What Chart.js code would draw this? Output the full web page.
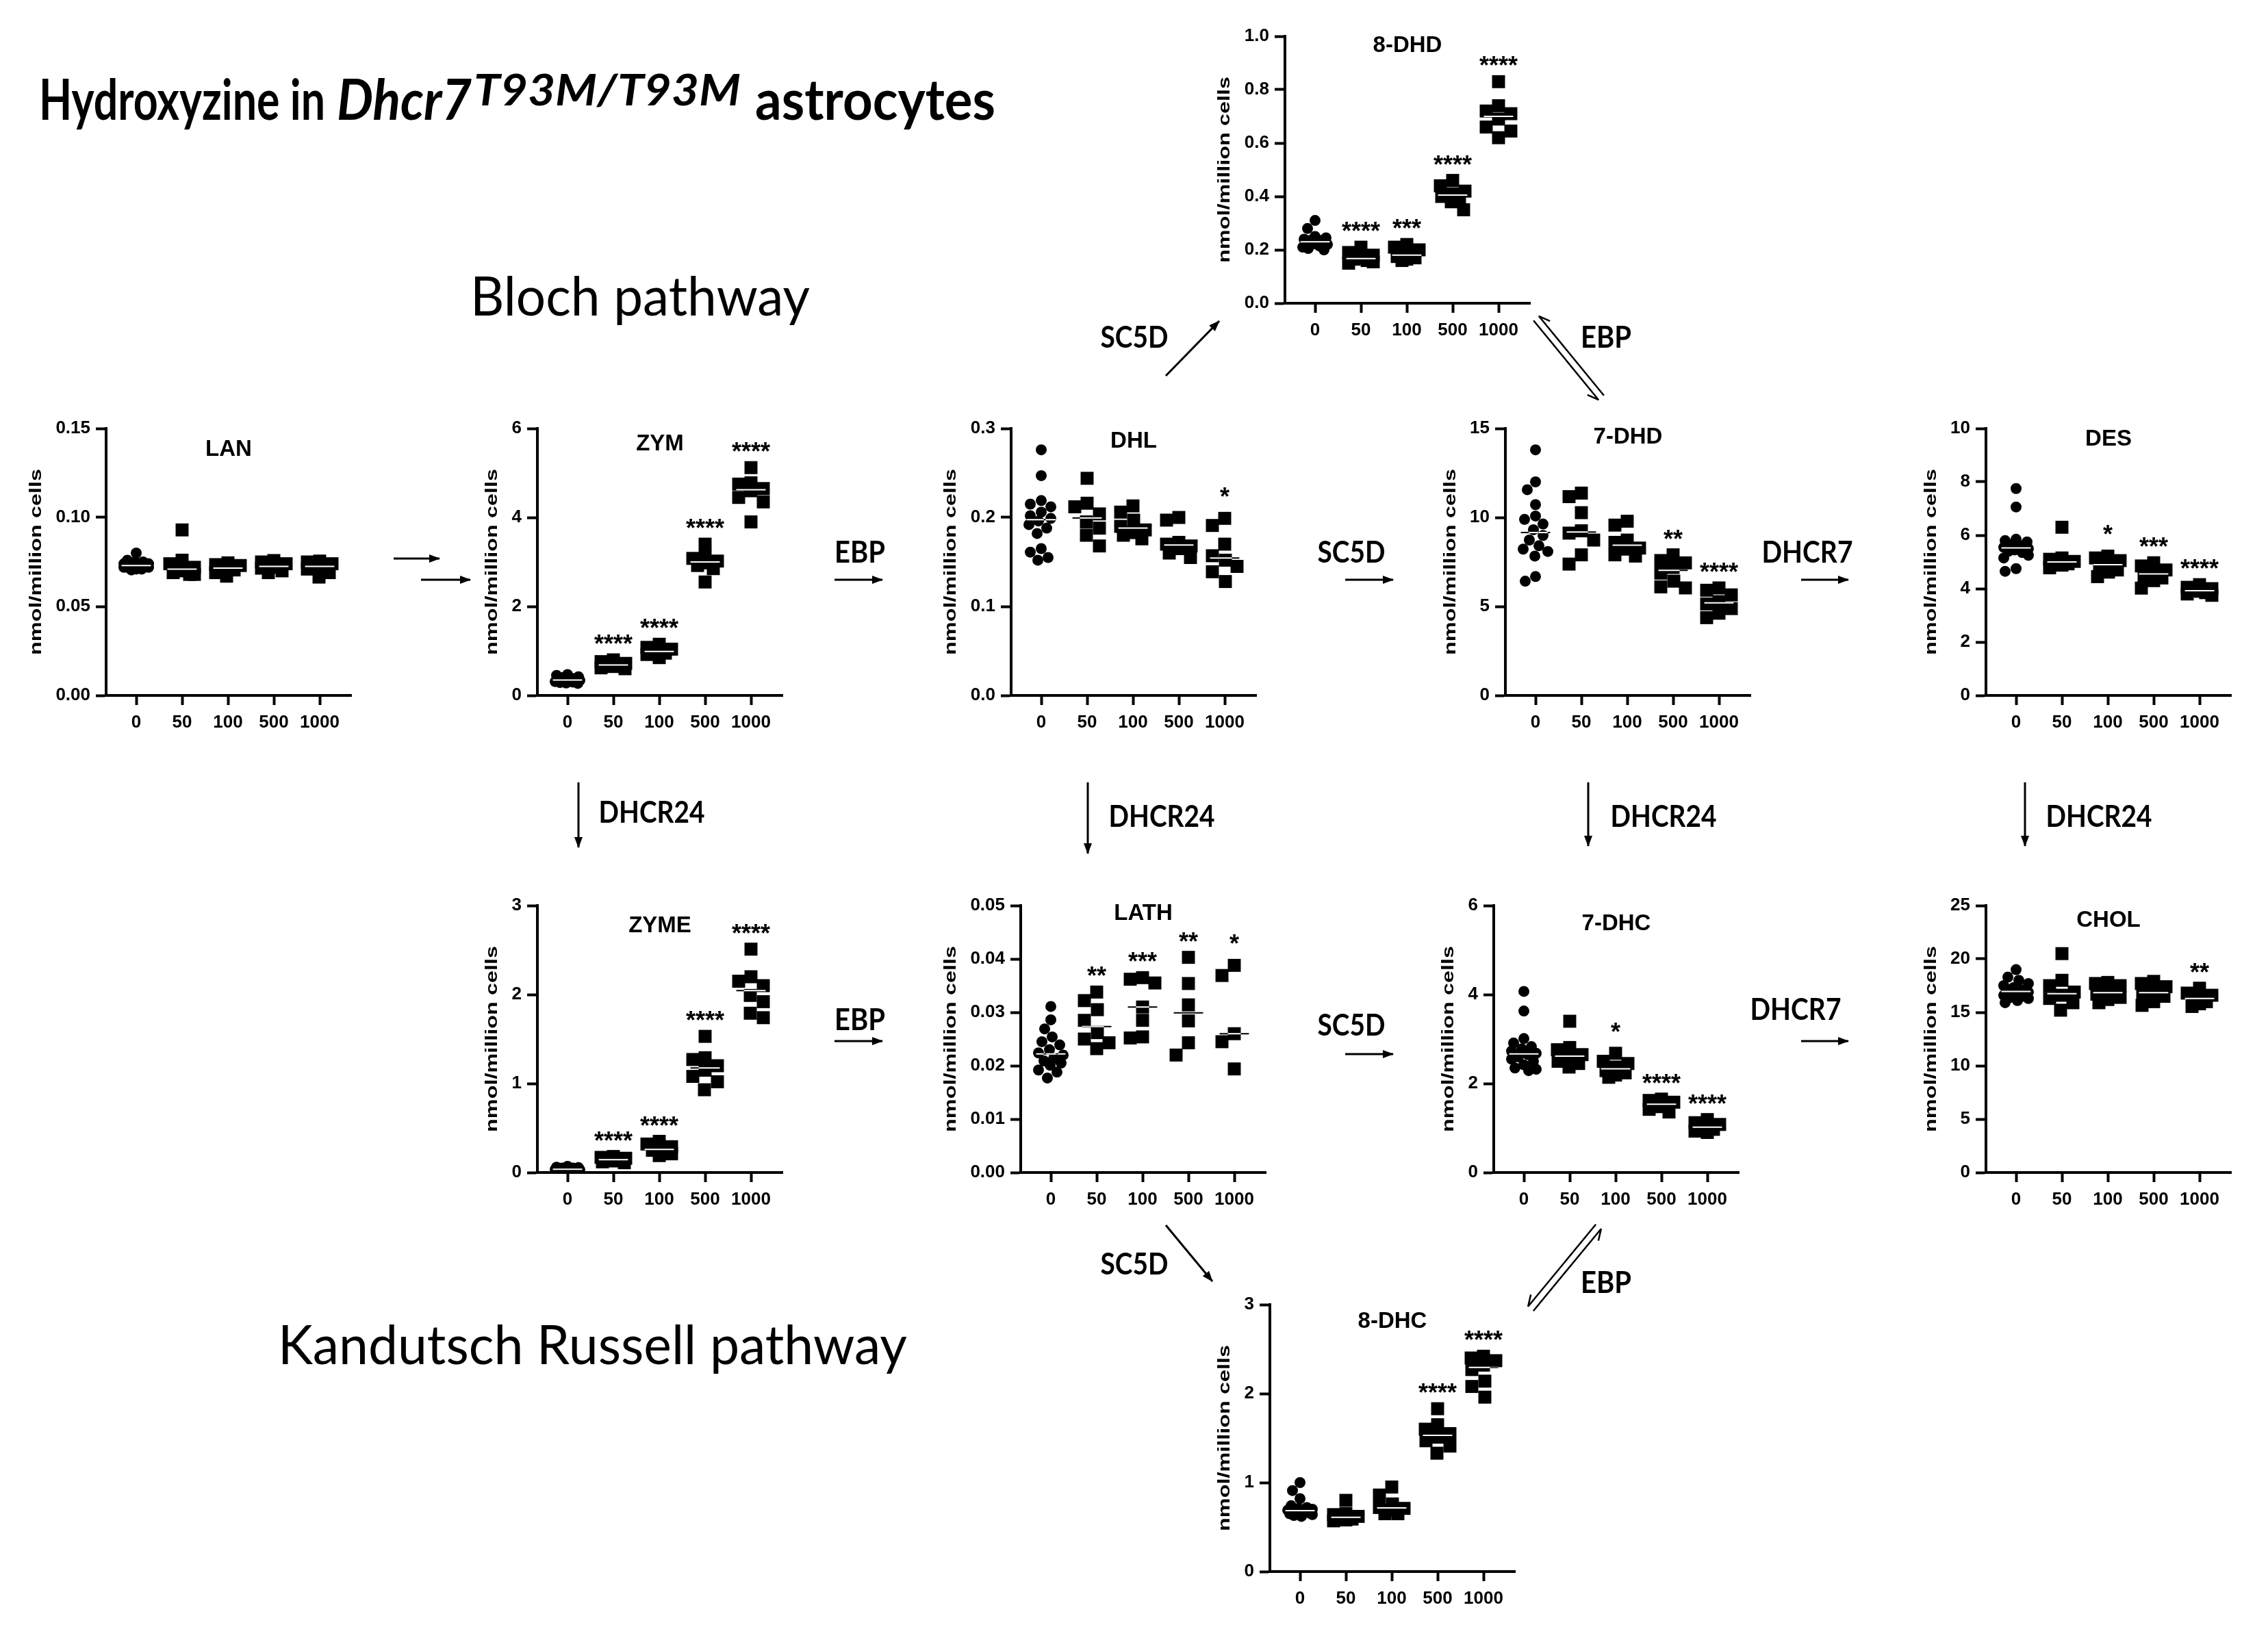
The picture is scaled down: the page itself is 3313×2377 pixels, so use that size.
<!DOCTYPE html>
<html>
<head>
<meta charset="utf-8">
<script src="https://cdn.jsdelivr.net/npm/chart.js@4.4.1/dist/chart.umd.min.js"></script>
<style>
  body { margin: 0; background: #fff; width: 3313px; height: 2377px; position: relative; overflow: hidden; }
  canvas { position: absolute; }
  #overlay { position: absolute; left: 0; top: 0; }
</style>
</head>
<body>
<script>
// dose groups (x categories)
const DOSES = ['0', '50', '100', '500', '1000'];

// values per panel, one list per dose group (nmol/million cells)
const dhd8Values = [
  [0.31, 0.28, 0.25, 0.245, 0.24, 0.235, 0.235, 0.23, 0.23, 0.225, 0.22, 0.22, 0.215, 0.21, 0.205, 0.2],
  [0.21, 0.19, 0.18, 0.17, 0.165, 0.16, 0.155, 0.15],
  [0.22, 0.21, 0.2, 0.185, 0.175, 0.17, 0.165, 0.16],
  [0.46, 0.44, 0.42, 0.41, 0.40, 0.395, 0.38, 0.35],
  [0.83, 0.74, 0.72, 0.71, 0.69, 0.66, 0.645, 0.62]
];
const dhd8Stars = ['', '****', '***', '****', '****'];
const dhd8Ticks = ['0.0', '0.2', '0.4', '0.6', '0.8', '1.0'];

const lanValues = [
  [0.080, 0.076, 0.075, 0.075, 0.074, 0.074, 0.074, 0.073, 0.073, 0.073, 0.072, 0.072, 0.072, 0.071, 0.071, 0.0705],
  [0.093, 0.076, 0.074, 0.072, 0.070, 0.069, 0.068, 0.068],
  [0.0745, 0.0735, 0.073, 0.072, 0.071, 0.0705, 0.069, 0.067],
  [0.0758, 0.075, 0.074, 0.073, 0.072, 0.0715, 0.070, 0.069],
  [0.0755, 0.075, 0.074, 0.073, 0.072, 0.071, 0.069, 0.0665]
];
const lanStars = ['', '', '', '', ''];
const lanTicks = ['0.00', '0.05', '0.10', '0.15'];

const zymValues = [
  [0.47, 0.45, 0.42, 0.40, 0.38, 0.37, 0.36, 0.35, 0.34, 0.33, 0.32, 0.31, 0.30, 0.29, 0.28, 0.27],
  [0.80, 0.76, 0.72, 0.70, 0.67, 0.65, 0.62, 0.60],
  [1.15, 1.08, 1.04, 1.00, 0.98, 0.95, 0.92, 0.85],
  [3.40, 3.12, 3.08, 3.02, 2.98, 2.92, 2.85, 2.55],
  [5.12, 4.78, 4.75, 4.65, 4.60, 4.45, 4.35, 3.90]
];
const zymStars = ['', '****', '****', '****', '****'];
const zymTicks = ['0', '2', '4', '6'];

const dhlValues = [
  [0.276, 0.247, 0.219, 0.215, 0.212, 0.206, 0.202, 0.199, 0.196, 0.192, 0.188, 0.182, 0.165, 0.161, 0.155, 0.152],
  [0.244, 0.216, 0.212, 0.204, 0.195, 0.188, 0.180, 0.168],
  [0.213, 0.206, 0.197, 0.190, 0.186, 0.183, 0.180, 0.176],
  [0.200, 0.197, 0.172, 0.170, 0.168, 0.165, 0.160, 0.155],
  [0.199, 0.191, 0.170, 0.157, 0.152, 0.145, 0.139, 0.128]
];
const dhlStars = ['', '', '', '', '*'];
const dhlTicks = ['0.0', '0.1', '0.2', '0.3'];

const dhd7Values = [
  [13.8, 12.0, 11.56, 10.72, 10.08, 9.89, 9.63, 9.31, 8.99, 8.73, 8.41, 8.22, 8.09, 7.83, 6.68, 6.42],
  [11.37, 11.17, 10.27, 9.25, 9.12, 8.73, 7.9, 7.38],
  [9.79, 9.57, 8.73, 8.6, 8.28, 8.22, 7.9, 7.83],
  [7.9, 7.58, 7.45, 7.19, 6.87, 6.42, 6.1, 6.04],
  [6.04, 5.91, 5.65, 5.27, 5.14, 4.88, 4.62, 4.37]
];
const dhd7Stars = ['', '', '', '**', '****'];
const dhd7Ticks = ['0', '5', '10', '15'];

const desValues = [
  [7.75, 7.06, 5.85, 5.80, 5.75, 5.65, 5.60, 5.55, 5.50, 5.45, 5.40, 5.35, 5.25, 5.15, 4.75, 4.65],
  [6.30, 5.15, 5.10, 5.02, 4.98, 4.93, 4.88, 4.78],
  [5.22, 5.15, 5.05, 4.95, 4.85, 4.70, 4.62, 4.45],
  [4.97, 4.85, 4.70, 4.60, 4.50, 4.40, 4.30, 4.02],
  [4.15, 4.05, 4.00, 3.95, 3.90, 3.85, 3.80, 3.75]
];
const desStars = ['', '', '*', '***', '****'];
const desTicks = ['0', '2', '4', '6', '8', '10'];

const zymeValues = [
  [0.07, 0.06, 0.055, 0.05, 0.05, 0.045, 0.04, 0.04, 0.035, 0.035, 0.03, 0.03, 0.025, 0.025, 0.02, 0.02],
  [0.18, 0.17, 0.16, 0.15, 0.14, 0.13, 0.12, 0.11],
  [0.35, 0.32, 0.29, 0.27, 0.25, 0.23, 0.21, 0.19],
  [1.53, 1.29, 1.27, 1.20, 1.15, 1.08, 1.02, 0.93],
  [2.51, 2.20, 2.15, 2.10, 1.99, 1.92, 1.79, 1.74]
];
const zymeStars = ['', '****', '****', '****', '****'];
const zymeTicks = ['0', '1', '2', '3'];

const lathValues = [
  [0.0311, 0.0286, 0.0269, 0.0254, 0.0245, 0.0239, 0.023, 0.0224, 0.022, 0.0213, 0.0209, 0.0205, 0.0201, 0.0192, 0.0188, 0.0177],
  [0.0338, 0.0322, 0.0305, 0.0285, 0.0262, 0.0250, 0.0243, 0.0232],
  [0.0365, 0.0362, 0.0355, 0.0310, 0.0285, 0.0254, 0.0252],
  [0.0403, 0.0354, 0.0314, 0.0284, 0.0243, 0.0220],
  [0.0388, 0.0369, 0.0260, 0.0245, 0.0194]
];
const lathStars = ['', '**', '***', '**', '*'];
const lathTicks = ['0.00', '0.01', '0.02', '0.03', '0.04', '0.05'];

const dhc7Values = [
  [4.07, 3.63, 3.01, 2.91, 2.83, 2.78, 2.73, 2.68, 2.65, 2.60, 2.55, 2.50, 2.42, 2.35, 2.32, 2.29],
  [3.40, 2.81, 2.76, 2.65, 2.58, 2.50, 2.45, 2.37],
  [2.68, 2.50, 2.45, 2.37, 2.29, 2.24, 2.19, 2.14],
  [1.65, 1.62, 1.58, 1.55, 1.52, 1.48, 1.42, 1.36],
  [1.19, 1.12, 1.08, 1.04, 1.00, 0.97, 0.93, 0.90]
];
const dhc7Stars = ['', '', '*', '****', '****'];
const dhc7Ticks = ['0', '2', '4', '6'];

const cholValues = [
  [19.0, 18.3, 18.0, 17.7, 17.5, 17.3, 17.1, 17.0, 16.9, 16.8, 16.6, 16.5, 16.4, 16.3, 16.1, 15.9],
  [20.5, 18.0, 17.5, 16.9, 16.6, 16.3, 15.9, 15.2],
  [17.8, 17.7, 17.5, 17.0, 16.7, 16.4, 16.2, 15.9],
  [17.9, 17.7, 17.4, 17.0, 16.7, 16.5, 16.0, 15.65],
  [17.26, 16.8, 16.6, 16.4, 16.2, 16.0, 15.8, 15.55]
];
const cholStars = ['', '', '', '', '**'];
const cholTicks = ['0', '5', '10', '15', '20', '25'];

const dhc8Values = [
  [1.0, 0.91, 0.82, 0.74, 0.72, 0.71, 0.70, 0.69, 0.68, 0.67, 0.66, 0.66, 0.65, 0.64, 0.63, 0.62],
  [0.80, 0.65, 0.64, 0.62, 0.60, 0.59, 0.58, 0.57],
  [0.95, 0.86, 0.76, 0.72, 0.71, 0.69, 0.65, 0.65],
  [1.83, 1.65, 1.60, 1.55, 1.51, 1.47, 1.41, 1.33],
  [2.42, 2.40, 2.37, 2.32, 2.27, 2.14, 2.08, 1.96]
];
const dhc8Stars = ['', '', '', '****', '****'];
const dhc8Ticks = ['0', '1', '2', '3'];

const panels = [
  { name: '8-DHD', values: dhd8Values, stars: dhd8Stars, yTicks: dhd8Ticks },
  { name: 'LAN', values: lanValues, stars: lanStars, yTicks: lanTicks },
  { name: 'ZYM', values: zymValues, stars: zymStars, yTicks: zymTicks },
  { name: 'DHL', values: dhlValues, stars: dhlStars, yTicks: dhlTicks },
  { name: '7-DHD', values: dhd7Values, stars: dhd7Stars, yTicks: dhd7Ticks },
  { name: 'DES', values: desValues, stars: desStars, yTicks: desTicks },
  { name: 'ZYME', values: zymeValues, stars: zymeStars, yTicks: zymeTicks },
  { name: 'LATH', values: lathValues, stars: lathStars, yTicks: lathTicks },
  { name: '7-DHC', values: dhc7Values, stars: dhc7Stars, yTicks: dhc7Ticks },
  { name: 'CHOL', values: cholValues, stars: cholStars, yTicks: cholTicks },
  { name: '8-DHC', values: dhc8Values, stars: dhc8Stars, yTicks: dhc8Ticks }
];

// where each plot sits on the page: y-axis x, top of axis, title offset
const layout = {
  '8-DHD': { x: 1877, y: 53, titleDy: 14 },
  'LAN': { x: 155, y: 626, titleDy: 31 },
  'ZYM': { x: 785, y: 626, titleDy: 23 },
  'DHL': { x: 1477, y: 626, titleDy: 19 },
  '7-DHD': { x: 2199, y: 626, titleDy: 13 },
  'DES': { x: 2901, y: 626, titleDy: 16 },
  'ZYME': { x: 785, y: 1323, titleDy: 30 },
  'LATH': { x: 1491, y: 1323, titleDy: 12 },
  '7-DHC': { x: 2182, y: 1323, titleDy: 27 },
  'CHOL': { x: 2901, y: 1323, titleDy: 22 },
  '8-DHC': { x: 1855, y: 1906, titleDy: 25 }
};

const PLOT_W = 358, PLOT_H = 390;
const X_MIN = 1 - 44 / 67, X_MAX = 5 + 46 / 67;
const PX_PER_X = PLOT_W / (X_MAX - X_MIN);
const PAD_L = 140, PAD_T = 50, PAD_R = 20, PAD_B = 80;
const MAX_SPREAD = 18;
const CIRCLE_R = 8, RECT_R = 13.4;
const FONT = '"Liberation Sans", Arial, sans-serif';

function median(arr) {
  const s = arr.slice().sort((a, b) => a - b);
  const m = Math.floor(s.length / 2);
  return s.length % 2 ? s[m] : (s[m - 1] + s[m]) / 2;
}

// spread points of one group sideways so they overlap as little as possible
function swarmX(vals, g, yMax) {
  const circle = g === 0;
  const size = circle ? CIRCLE_R * 2 : RECT_R * Math.SQRT2;
  const cands = [0];
  for (let d = 1; d <= MAX_SPREAD; d++) cands.push(-d, d);
  const order = vals.map((v, i) => i).sort((a, b) => vals[b] - vals[a]);
  const placed = [], xs = [];
  order.forEach(i => {
    const py = vals[i] / yMax * PLOT_H;
    let best = 0, bestD = -1;
    for (const c of cands) {
      let dmin = Infinity;
      for (const q of placed) {
        const dx = q.x - c, dy = q.y - py;
        const d = circle ? Math.hypot(dx, dy) : Math.max(Math.abs(dx), Math.abs(dy));
        if (d < dmin) dmin = d;
      }
      if (dmin >= size) { best = c; break; }
      if (dmin > bestD) { bestD = dmin; best = c; }
    }
    placed.push({ x: best, y: py });
    xs[i] = g + 1 + best / PX_PER_X;
  });
  return xs;
}

function decorPlugin(p) {
  return {
    id: 'decor',
    beforeDraw(chart) {
      const c = chart.ctx;
      c.save();
      c.fillStyle = '#fff';
      c.fillRect(0, 0, chart.width, chart.height);
      c.restore();
    },
    beforeDatasetDraw(chart, args) {
      if (chart.data.datasets[args.index].median) {
        chart.ctx.save();
        chart.ctx.globalCompositeOperation = 'difference';
      }
    },
    afterDatasetDraw(chart, args) {
      if (chart.data.datasets[args.index].median) chart.ctx.restore();
    },
    afterDraw(chart) {
      const c = chart.ctx, a = chart.chartArea;
      const xs = chart.scales.x, ys = chart.scales.y;
      const L = layout[p.name];
      c.save();
      c.fillStyle = '#000';
      // panel title
      c.font = 'bold 33px ' + FONT;
      c.textAlign = 'center';
      c.textBaseline = 'middle';
      c.fillText(p.name, (a.left + a.right) / 2, a.top + L.titleDy);
      // significance stars
      c.font = 'bold 36px ' + FONT;
      c.textBaseline = 'alphabetic';
      p.stars.forEach((s, g) => {
        if (!s) return;
        const top = ys.getPixelForValue(Math.max(...p.values[g]));
        const lift = s.length === 1 ? 40 : 32;
        c.fillText(s, xs.getPixelForValue(g + 1), top - lift + 21);
      });
      // y axis title, stretched along its length like the original
      c.font = 'bold 26px ' + FONT;
      const widest = Math.max(...p.yTicks.map(t => c.measureText(t).width));
      const tx = a.left - 15 - 8 - widest - 28;
      const ty = (a.top + a.bottom) / 2;
      const label = 'nmol/million cells';
      c.font = 'bold 24px ' + FONT;
      const stretch = 272 / c.measureText(label).width;
      c.translate(tx, ty);
      c.rotate(-Math.PI / 2);
      c.scale(stretch, 1);
      c.textAlign = 'center';
      c.textBaseline = 'middle';
      c.fillText(label, 0, 0);
      c.restore();
    }
  };
}

function makePanel(p) {
  const L = layout[p.name];
  const yMax = parseFloat(p.yTicks[p.yTicks.length - 1]);
  const canvas = document.createElement('canvas');
  canvas.width = PAD_L + PLOT_W + PAD_R;
  canvas.height = PAD_T + PLOT_H + PAD_B;
  canvas.style.left = (L.x - PAD_L) + 'px';
  canvas.style.top = (L.y - PAD_T) + 'px';
  document.body.appendChild(canvas);

  const ctrl = [], treated = [], med = [];
  p.values.forEach((vals, g) => {
    const xs = swarmX(vals, g, yMax);
    vals.forEach((v, i) => (g === 0 ? ctrl : treated).push({ x: xs[i], y: v }));
    const m = median(vals);
    med.push({ x: g + 1 - 0.32, y: m }, { x: g + 1 + 0.32, y: m }, { x: g + 1.5, y: null });
  });

  const tickFont = { family: FONT, size: 26, weight: 'bold' };
  new Chart(canvas, {
    type: 'scatter',
    data: {
      datasets: [
        { median: true, data: med, showLine: true, spanGaps: false, borderColor: '#fff', borderWidth: 2, pointRadius: 0, order: -1 },
        { data: ctrl, pointStyle: 'circle', pointRadius: CIRCLE_R, backgroundColor: '#000', borderWidth: 0 },
        { data: treated, pointStyle: 'rect', pointRadius: RECT_R, backgroundColor: '#000', borderWidth: 0 }
      ]
    },
    options: {
      responsive: false,
      animation: false,
      devicePixelRatio: 1,
      events: [],
      layout: { padding: { left: 0, top: PAD_T, right: PAD_R, bottom: 0 } },
      plugins: { legend: { display: false }, tooltip: { enabled: false } },
      scales: {
        x: {
          type: 'linear',
          min: X_MIN,
          max: X_MAX,
          afterFit: s => { s.height = PAD_B; },
          afterBuildTicks: s => { s.ticks = DOSES.map((d, i) => ({ value: i + 1 })); },
          ticks: { callback: (v, i) => DOSES[i], font: tickFont, color: '#000', padding: 10, maxRotation: 0, autoSkip: false },
          grid: { drawOnChartArea: false, tickLength: 14, tickWidth: 4, tickColor: '#000' },
          border: { display: true, width: 4, color: '#000' }
        },
        y: {
          min: 0,
          max: yMax,
          afterFit: s => { s.width = PAD_L; },
          afterBuildTicks: s => { s.ticks = p.yTicks.map(t => ({ value: parseFloat(t) })); },
          ticks: { callback: (v, i) => p.yTicks[i], font: tickFont, color: '#000', padding: 8 },
          grid: { drawOnChartArea: false, tickLength: 15, tickWidth: 4, tickColor: '#000' },
          border: { display: true, width: 4, color: '#000' }
        }
      }
    },
    plugins: [decorPlugin(p)]
  });
}

panels.forEach(makePanel);

// pathway overlay: headings, enzyme names and arrows
const NS = 'http://www.w3.org/2000/svg';
const svg = document.createElementNS(NS, 'svg');
svg.setAttribute('id', 'overlay');
svg.setAttribute('width', 3313);
svg.setAttribute('height', 2377);
document.body.appendChild(svg);

function el(tag, attrs, text) {
  const e = document.createElementNS(NS, tag);
  Object.entries(attrs).forEach(([k, v]) => e.setAttribute(k, v));
  if (text) e.textContent = text;
  svg.appendChild(e);
  return e;
}

const HEAD_FONT = 'Lato, "Open Sans", sans-serif';
// figure heading pieces: text, left, baseline, size, width, italic
const heading = [
  ['Hydroxyzine in', 57, 175, 82, 418, false],
  ['Dhcr7', 492, 175, 82, 197, true],
  ['T93M/T93M', 692, 154, 64, 390, true],
  ['astrocytes', 1103, 175, 82, 351, false]
];
heading.forEach(([t, x, y, s, w, it]) => {
  el('text', { x, y, 'font-family': HEAD_FONT, 'font-weight': 700, 'font-size': s, 'font-style': it ? 'italic' : 'normal',
    textLength: w, lengthAdjust: 'spacingAndGlyphs', fill: '#000' }, t);
});

el('text', { x: 687, y: 461, 'font-family': HEAD_FONT, 'font-size': 80, textLength: 496, lengthAdjust: 'spacingAndGlyphs' }, 'Bloch pathway');
el('text', { x: 406, y: 1993, 'font-family': HEAD_FONT, 'font-size': 80, textLength: 919, lengthAdjust: 'spacingAndGlyphs' }, 'Kandutsch Russell pathway');

const enzymeWidth = { SC5D: 99, EBP: 74, DHCR7: 133, DHCR24: 155 };
const enzymes = [
  ['SC5D', 1657, 492], ['EBP', 2346, 492], ['EBP', 1256, 806], ['SC5D', 1974, 806], ['DHCR7', 2640, 806],
  ['DHCR24', 952, 1186], ['DHCR24', 1697, 1192], ['DHCR24', 2430, 1192], ['DHCR24', 3066, 1192],
  ['EBP', 1256, 1489], ['SC5D', 1974, 1497], ['DHCR7', 2623, 1474], ['SC5D', 1657, 1846], ['EBP', 2346, 1873]
];
enzymes.forEach(([t, cx, cy]) => {
  const w = enzymeWidth[t];
  el('text', { x: cx - w / 2, y: cy + 16, 'font-family': HEAD_FONT, 'font-weight': 700, 'font-size': 44,
    textLength: w, lengthAdjust: 'spacingAndGlyphs' }, t);
});

const defs = el('defs', {});
const marker = document.createElementNS(NS, 'marker');
[['id', 'ah'], ['viewBox', '0 0 16 12'], ['refX', 15], ['refY', 6], ['markerWidth', 16], ['markerHeight', 12],
 ['markerUnits', 'userSpaceOnUse'], ['orient', 'auto']].forEach(([k, v]) => marker.setAttribute(k, v));
const mp = document.createElementNS(NS, 'path');
mp.setAttribute('d', 'M0,0 L16,6 L0,12 Z');
marker.appendChild(mp);
defs.appendChild(marker);

const arrows = [
  [575, 816, 642, 816], [615, 847, 687, 847],
  [1219, 847, 1289, 847], [1965, 847, 2035, 847], [2631, 847, 2700, 847],
  [845, 1143, 845, 1238], [1589, 1143, 1589, 1247], [2320, 1143, 2320, 1236], [2958, 1143, 2958, 1236],
  [1219, 1521, 1289, 1521], [1965, 1540, 2035, 1540], [2631, 1521, 2700, 1521],
  [1703, 549, 1781, 469], [1703, 1790, 1771, 1872]
];
arrows.forEach(([x1, y1, x2, y2]) => {
  el('line', { x1, y1, x2, y2, stroke: '#000', 'stroke-width': 3, 'marker-end': 'url(#ah)' });
});

// equilibrium half-arrows
const harpoons = [[2244, 465, 2339, 581], [2236, 1912, 2335, 1792]];
harpoons.forEach(([ax, ay, bx, by]) => {
  const len = Math.hypot(bx - ax, by - ay);
  const ux = (bx - ax) / len, uy = (by - ay) / len;
  const nx = -uy, ny = ux, o = 5;
  const a1 = [ax + nx * o, ay + ny * o], b1 = [bx + nx * o, by + ny * o];
  const a2 = [ax - nx * o, ay - ny * o], b2 = [bx - nx * o, by - ny * o];
  el('path', { d: `M${a1[0]},${a1[1]} L${b1[0]},${b1[1]} L${b1[0] - ux * 16 + nx * 8},${b1[1] - uy * 16 + ny * 8}`,
    stroke: '#000', 'stroke-width': 2.5, fill: 'none' });
  el('path', { d: `M${b2[0]},${b2[1]} L${a2[0]},${a2[1]} L${a2[0] + ux * 16 - nx * 8},${a2[1] + uy * 16 - ny * 8}`,
    stroke: '#000', 'stroke-width': 2.5, fill: 'none' });
});
</script>
</body>
</html>
